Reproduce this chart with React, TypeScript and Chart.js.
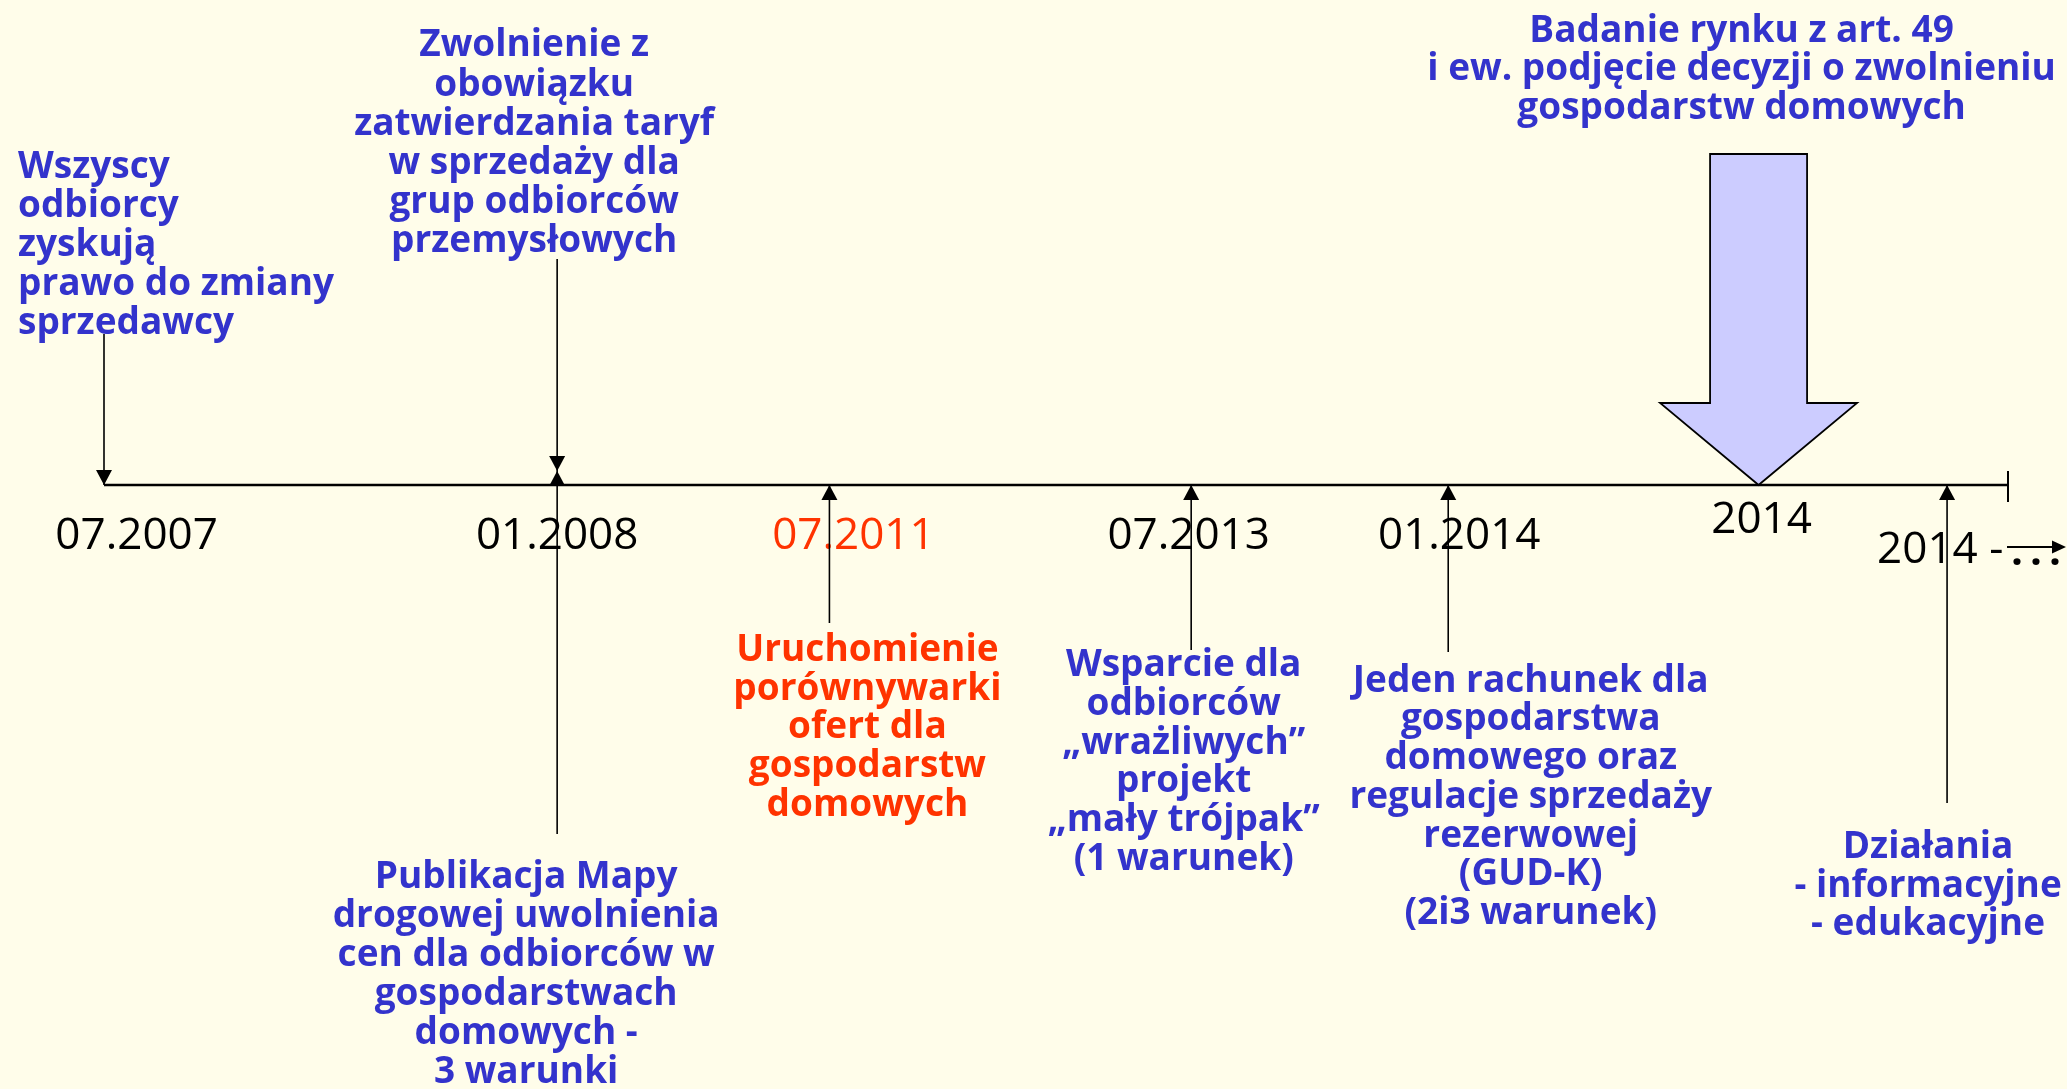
import React, { useEffect, useRef } from 'react';
import { Chart, registerables } from 'chart.js';

Chart.register(...registerables);

// ---------- DATA ----------
const DATE_LABELS: string[] = ['07.2007', '01.2008', '07.2011', '07.2013', '01.2014', '2014', '2014 -'];
// position of each milestone along the (non-linear) timeline axis, 0..100
const POSITIONS: number[] = [0, 23.8, 38.1, 57.1, 70.6, 86.9, 96.8];
const AXIS_RANGE: number[] = [0, 100];
const HIGHLIGHT_INDEX = 2; // 07.2011 shown in red

const TEXT_WSZYSCY: string[] = ['Wszyscy', 'odbiorcy', 'zyskują', 'prawo do zmiany', 'sprzedawcy'];
const TEXT_ZWOLNIENIE: string[] = ['Zwolnienie z', 'obowiązku', 'zatwierdzania taryf', 'w sprzedaży dla', 'grup odbiorców', 'przemysłowych'];
const TEXT_PUBLIKACJA: string[] = ['Publikacja Mapy', 'drogowej uwolnienia', 'cen dla odbiorców w', 'gospodarstwach', 'domowych -', '3 warunki'];
const TEXT_PORÓWNYWARKA: string[] = ['Uruchomienie', 'porównywarki', 'ofert dla', 'gospodarstw', 'domowych'];
const TEXT_WSPARCIE: string[] = ['Wsparcie dla', 'odbiorców', '\u201Ewrażliwych\u201D', 'projekt', '\u201Emały trójpak\u201D', '(1 warunek)'];
const TEXT_RACHUNEK: string[] = ['Jeden rachunek dla', 'gospodarstwa', 'domowego oraz', 'regulacje sprzedaży', 'rezerwowej', '(GUD-K)', '(2i3 warunek)'];
const TEXT_BADANIE: string[] = ['Badanie rynku z art. 49', 'i ew. podjęcie decyzji o zwolnieniu', 'gospodarstw domowych'];
const TEXT_DZIALANIA: string[] = ['Działania', '- informacyjne', '- edukacyjne'];
const ELLIPSIS = '...';

// ---------- STYLE / LAYOUT ----------
const BG = '#FFFDEA';
const BLUE = '#3333CC';
const RED = '#FF3300';
const ARROW_FILL = '#CCCCFF';
const TEXT_FONT = 'bold 37px "Open Sans", sans-serif';
const DATE_FONT = '44px "Open Sans", sans-serif';
const W = 2067;
const H = 1089;
const AXIS_PX = 485;
const PX_PER_UNIT = 19.04;
const X_MIN = -104 / PX_PER_UNIT;
const X_MAX = X_MIN + W / PX_PER_UNIT;

// stems: [event index, from (value above axis), to]
const STEMS: { i: number; from: number; to: number; head: 'down' | 'up' | null }[] = [
  { i: 0, from: 151, to: 0, head: 'down' },
  { i: 1, from: 226, to: 14, head: 'down' },
  { i: 1, from: -349, to: 14, head: 'up' },
  { i: 2, from: -138, to: 0, head: 'up' },
  { i: 3, from: -165, to: 0, head: 'up' },
  { i: 4, from: -167, to: 0, head: 'up' },
  { i: 6, from: -318, to: 0, head: 'up' },
];

const BLOCKS: { lines: string[]; i: number; dx: number; y0: number; lh: number; align: CanvasTextAlign; color: string }[] = [
  { lines: TEXT_WSZYSCY, i: 0, dx: -86, y0: 177.5, lh: 39.1, align: 'left', color: BLUE },
  { lines: TEXT_ZWOLNIENIE, i: 1, dx: -23, y0: 56.4, lh: 39.1, align: 'center', color: BLUE },
  { lines: TEXT_PUBLIKACJA, i: 1, dx: -31, y0: 888, lh: 38.9, align: 'center', color: BLUE },
  { lines: TEXT_PORÓWNYWARKA, i: 2, dx: 38, y0: 661, lh: 38.7, align: 'center', color: RED },
  { lines: TEXT_WSPARCIE, i: 3, dx: -7.5, y0: 676, lh: 38.8, align: 'center', color: BLUE },
  { lines: TEXT_RACHUNEK, i: 4, dx: 82.5, y0: 691.5, lh: 38.75, align: 'center', color: BLUE },
  { lines: TEXT_BADANIE, i: 5, dx: -17, y0: 42, lh: 38.3, align: 'center', color: BLUE },
  { lines: TEXT_DZIALANIA, i: 6, dx: -19, y0: 857.6, lh: 38.9, align: 'center', color: BLUE },
];

// date labels: dx from milestone, baseline, alignment
const DATE_LAYOUT: { dx: number; y: number; align: CanvasTextAlign }[] = [
  { dx: 32.6, y: 549, align: 'center' },
  { dx: 0, y: 549, align: 'center' },
  { dx: 24, y: 549, align: 'center' },
  { dx: -2.5, y: 549, align: 'center' },
  { dx: 11, y: 549, align: 'center' },
  { dx: 3, y: 533, align: 'center' },
  { dx: -70, y: 563, align: 'left' },
];

function head(ctx: CanvasRenderingContext2D, cx: number, tipY: number, dir: 'down' | 'up') {
  const hw = 8;
  const hl = 15;
  const baseY = dir === 'down' ? tipY - hl : tipY + hl;
  ctx.beginPath();
  ctx.moveTo(cx, tipY);
  ctx.lineTo(cx - hw, baseY);
  ctx.lineTo(cx + hw, baseY);
  ctx.closePath();
  ctx.fillStyle = '#000';
  ctx.fill();
}

const timelinePlugin = {
  id: 'timelineDecor',
  beforeDraw(chart: any) {
    const ctx: CanvasRenderingContext2D = chart.ctx;
    ctx.save();
    ctx.fillStyle = BG;
    ctx.fillRect(0, 0, chart.width, chart.height);
    ctx.restore();
  },
  beforeDatasetsDraw(chart: any) {
    const ctx: CanvasRenderingContext2D = chart.ctx;
    const xs = chart.scales.x;
    ctx.save();
    ctx.font = DATE_FONT;
    ctx.textBaseline = 'alphabetic';
    DATE_LABELS.forEach((lab, k) => {
      const l = DATE_LAYOUT[k];
      ctx.fillStyle = k === HIGHLIGHT_INDEX ? RED : '#000';
      ctx.textAlign = l.align;
      ctx.fillText(lab, xs.getPixelForValue(POSITIONS[k]) + l.dx, l.y);
    });
    ctx.restore();
  },
  afterDatasetsDraw(chart: any) {
    const ctx: CanvasRenderingContext2D = chart.ctx;
    const xs = chart.scales.x;
    const ys = chart.scales.y;
    ctx.save();

    // arrowheads on stems
    STEMS.forEach((s) => {
      if (s.head) head(ctx, xs.getPixelForValue(POSITIONS[s.i]), ys.getPixelForValue(s.to), s.head);
    });

    // end tick of the axis
    const endX = xs.getPixelForValue(AXIS_RANGE[1]);
    ctx.strokeStyle = '#000';
    ctx.lineWidth = 2;
    ctx.beginPath();
    ctx.moveTo(endX, ys.getPixelForValue(14));
    ctx.lineTo(endX, ys.getPixelForValue(-17));
    ctx.stroke();

    // big block arrow for "2014"
    const cx = xs.getPixelForValue(POSITIONS[5]);
    const top = ys.getPixelForValue(331);
    const hb = ys.getPixelForValue(82);
    const tip = ys.getPixelForValue(0);
    ctx.beginPath();
    ctx.moveTo(cx - 48.5, top);
    ctx.lineTo(cx + 48.5, top);
    ctx.lineTo(cx + 48.5, hb);
    ctx.lineTo(cx + 98.5, hb);
    ctx.lineTo(cx, tip);
    ctx.lineTo(cx - 98.5, hb);
    ctx.lineTo(cx - 48.5, hb);
    ctx.closePath();
    ctx.fillStyle = ARROW_FILL;
    ctx.fill();
    ctx.lineWidth = 1.8;
    ctx.strokeStyle = '#000';
    ctx.stroke();

    // small "continues" arrow after "2014 -"
    const ay = 547;
    const ax0 = W - 60;
    const ax1 = W - 1;
    ctx.lineWidth = 2;
    ctx.beginPath();
    ctx.moveTo(ax0, ay);
    ctx.lineTo(ax1 - 12, ay);
    ctx.stroke();
    ctx.beginPath();
    ctx.moveTo(ax1, ay);
    ctx.lineTo(ax1 - 14, ay - 6.5);
    ctx.lineTo(ax1 - 14, ay + 6.5);
    ctx.closePath();
    ctx.fillStyle = '#000';
    ctx.fill();
    ctx.font = 'bold 42px "Open Sans", sans-serif';
    ctx.textAlign = 'center';
    ctx.textBaseline = 'alphabetic';
    ELLIPSIS.split('').forEach((ch, k) => {
      ctx.fillText(ch, W - 50 + k * 19, 565);
    });

    // text blocks
    ctx.font = TEXT_FONT;
    ctx.textBaseline = 'alphabetic';
    BLOCKS.forEach((b) => {
      ctx.fillStyle = b.color;
      ctx.textAlign = b.align;
      const bx = b.align === 'left' ? 18 : xs.getPixelForValue(POSITIONS[b.i]) + b.dx;
      b.lines.forEach((line, k) => {
        ctx.fillText(line, bx, b.y0 + k * b.lh);
      });
    });

    ctx.restore();
  },
};

export default function App() {
  const ref = useRef<HTMLCanvasElement | null>(null);

  useEffect(() => {
    document.body.style.margin = '0';
    document.body.style.background = BG;
    const canvas = ref.current;
    if (!canvas) return;

    const datasets: any[] = [
      {
        label: 'axis',
        data: [
          { x: AXIS_RANGE[0], y: 0 },
          { x: AXIS_RANGE[1], y: 0 },
        ],
        showLine: true,
        borderColor: '#000',
        borderWidth: 2.5,
        pointRadius: 0,
      },
      ...STEMS.map((s, k) => ({
        label: 'stem' + k,
        data: [
          { x: POSITIONS[s.i], y: s.from },
          { x: POSITIONS[s.i], y: s.to },
        ],
        showLine: true,
        borderColor: '#000',
        borderWidth: 1.6,
        pointRadius: 0,
      })),
    ];

    const chart = new Chart(canvas, {
      type: 'scatter',
      data: { datasets },
      options: {
        animation: false,
        responsive: false,
        maintainAspectRatio: false,
        layout: { padding: 0 },
        plugins: { legend: { display: false }, tooltip: { enabled: false } },
        scales: {
          x: { type: 'linear', min: X_MIN, max: X_MAX, display: false },
          y: { type: 'linear', min: AXIS_PX - H, max: AXIS_PX, display: false },
        },
      },
      plugins: [timelinePlugin as any],
    });

    return () => chart.destroy();
  }, []);

  return (
    <div style={{ width: W, height: H, background: BG }}>
      <canvas ref={ref} width={W} height={H} style={{ display: 'block', width: W, height: H }} />
    </div>
  );
}
